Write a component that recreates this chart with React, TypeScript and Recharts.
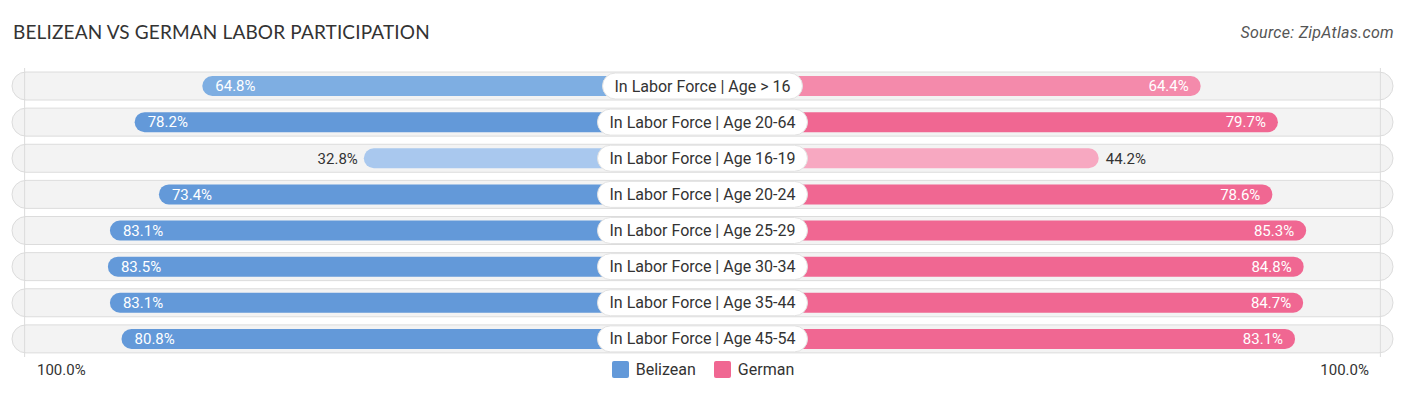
import { Bar, BarChart, Cell, LabelList, ReferenceLine, XAxis, YAxis } from "recharts";

const categories = [
  "In Labor Force | Age > 16",
  "In Labor Force | Age 20-64",
  "In Labor Force | Age 16-19",
  "In Labor Force | Age 20-24",
  "In Labor Force | Age 25-29",
  "In Labor Force | Age 30-34",
  "In Labor Force | Age 35-44",
  "In Labor Force | Age 45-54",
];
const belizean = [64.8, 78.2, 32.8, 73.4, 83.1, 83.5, 83.1, 80.8];
const german = [64.4, 79.7, 44.2, 78.6, 85.3, 84.8, 84.7, 83.1];

// part of every bar that sits hidden under the centre label
const OFFSET = 34.3;
const SPAN = 136.8;

const BLUE = ["#a9c8ee", "#7eaee2", "#6399d9"];
const PINK = ["#f7a8c1", "#f48aab", "#f06792"];
const shade = (pal: string[], v: number) => (v < 50 ? pal[0] : v < 70 ? pal[1] : pal[2]);

const FONT = "Roboto, 'Noto Sans', sans-serif";

const data = categories.map((label, i) => ({
  label,
  belizean: belizean[i],
  german: german[i],
  left: -(OFFSET + belizean[i]),
  right: OFFSET + german[i],
}));

let ctx: CanvasRenderingContext2D | null = null;
function textWidth(s: string, font: string) {
  if (!ctx) ctx = document.createElement("canvas").getContext("2d");
  if (!ctx) return s.length * 8;
  ctx.font = font;
  return ctx.measureText(s).width;
}

function PillBg(props: any) {
  const { x, y, width, height } = props;
  return (
    <rect
      x={x}
      y={y - 4}
      width={width}
      height={height + 8}
      rx={14}
      fill="#f3f3f3"
      stroke="#dcdcdc"
      strokeWidth={1}
    />
  );
}

function ValueLabel(props: any) {
  const { x, y, width, height, value, side } = props;
  const lo = Math.min(x, x + width);
  const hi = Math.max(x, x + width);
  const inside = value >= 50;
  const cy = y + height / 2;
  const txt = `${value.toFixed(1)}%`;
  const common = { y: cy, dy: "0.35em", fontSize: 15, fontFamily: FONT };
  if (side === "left") {
    return inside ? (
      <text {...common} x={lo + 13} fill="#fff">
        {txt}
      </text>
    ) : (
      <text {...common} x={lo - 6} textAnchor="end" fill="#333">
        {txt}
      </text>
    );
  }
  return inside ? (
    <text {...common} x={hi - 12} textAnchor="end" fill="#fff">
      {txt}
    </text>
  ) : (
    <text {...common} x={hi + 7} fill="#333">
      {txt}
    </text>
  );
}

function CenterLabel(props: any) {
  const { x, y, height, value } = props;
  const w = textWidth(value, `16px ${FONT}`) + 24;
  const cy = y + height / 2;
  return (
    <g>
      <rect x={x - w / 2} y={cy - 13} width={w} height={26} rx={13} fill="#fff" stroke="#e2e2e2" />
      <text x={x} y={cy} dy="0.35em" textAnchor="middle" fill="#333" fontSize={16} fontFamily={FONT}>
        {value}
      </text>
    </g>
  );
}

export default function App() {
  return (
    <div style={{ position: "relative", width: 1406, height: 395, fontFamily: FONT }}>
      <style>{`body{margin:0}`}</style>
      <div
        style={{
          position: "absolute",
          left: 13,
          top: 20,
          fontSize: 19,
          color: "#333",
          fontFamily: "Lato, sans-serif",
          letterSpacing: 0.15,
        }}
      >
        BELIZEAN VS GERMAN LABOR PARTICIPATION
      </div>
      <div
        style={{
          position: "absolute",
          right: 12,
          top: 23,
          fontSize: 16,
          letterSpacing: 0.3,
          fontStyle: "italic",
          color: "#555",
        }}
      >
        Source: ZipAtlas.com
      </div>
      <BarChart
        width={1406}
        height={395}
        data={data}
        layout="vertical"
        stackOffset="sign"
        margin={{ top: 68, right: 13, bottom: 38, left: 12 }}
      >
        <XAxis type="number" domain={[-SPAN, SPAN]} hide allowDataOverflow />
        <YAxis type="category" dataKey="label" hide />
        <ReferenceLine x={-(OFFSET + 100)} stroke="#dcdcdc" />
        <ReferenceLine x={OFFSET + 100} stroke="#dcdcdc" />
        <Bar
          dataKey="left"
          stackId="a"
          barSize={20}
          radius={10}
          background={PillBg}
          isAnimationActive={false}
        >
          {data.map((d, i) => (
            <Cell key={i} fill={shade(BLUE, d.belizean)} />
          ))}
          <LabelList dataKey="belizean" content={(p: any) => <ValueLabel {...p} side="left" />} />
        </Bar>
        <Bar dataKey="right" stackId="a" barSize={20} radius={10} isAnimationActive={false}>
          {data.map((d, i) => (
            <Cell key={i} fill={shade(PINK, d.german)} />
          ))}
          <LabelList dataKey="german" content={(p: any) => <ValueLabel {...p} side="right" />} />
          <LabelList dataKey="label" content={(p: any) => <CenterLabel {...p} />} />
        </Bar>
      </BarChart>
      <div style={{ position: "absolute", left: 37, top: 361, fontSize: 15, color: "#333" }}>100.0%</div>
      <div style={{ position: "absolute", right: 37, top: 361, fontSize: 15, color: "#333" }}>100.0%</div>
      <div
        style={{
          position: "absolute",
          left: 0,
          width: 1406,
          top: 360,
          display: "flex",
          justifyContent: "center",
          gap: 18,
          fontSize: 16,
          color: "#333",
        }}
      >
        <span style={{ display: "flex", alignItems: "center", gap: 7 }}>
          <span style={{ width: 17, height: 17, background: BLUE[2], borderRadius: 2 }} />
          Belizean
        </span>
        <span style={{ display: "flex", alignItems: "center", gap: 7 }}>
          <span style={{ width: 17, height: 17, background: PINK[2], borderRadius: 2 }} />
          German
        </span>
      </div>
    </div>
  );
}
